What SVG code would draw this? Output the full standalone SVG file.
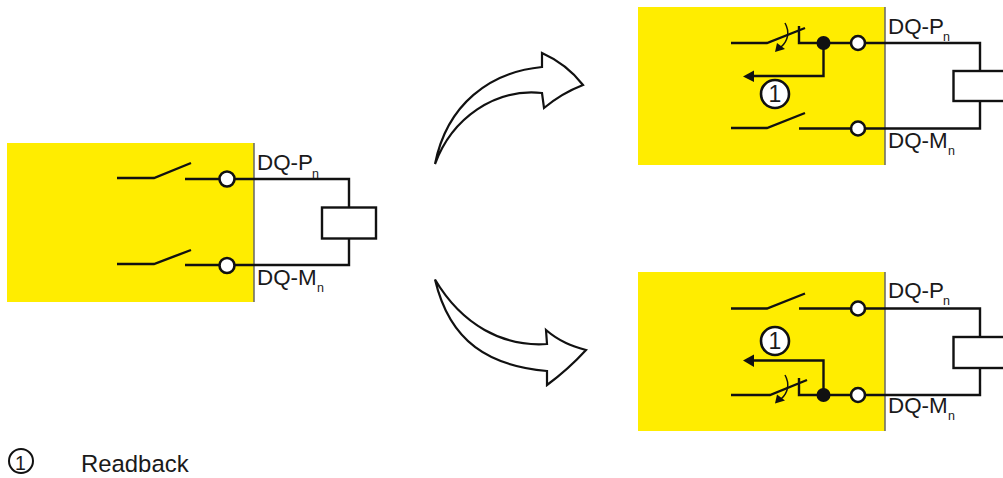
<svg xmlns="http://www.w3.org/2000/svg" width="1003" height="478" viewBox="0 0 1003 478">
<style>
text{font-family:"Liberation Sans",Arial,sans-serif;fill:#1a1a1a}
.l{font-size:22.4px}
.s{font-size:12.500px}
.y{fill:#ffed00}
.b{stroke:#666;stroke-width:1.5;fill:none}
.w{fill:none;stroke:#111;stroke-width:2.4}
.c{fill:#fff;stroke:#111;stroke-width:2.6}
.r{fill:#fff;stroke:#111;stroke-width:2.4}
.k{fill:#111;stroke:none}
.a{fill:#fff;stroke:#111;stroke-width:2.2;stroke-linejoin:miter}
.n{font-size:23px;text-anchor:middle}
</style>
<rect width="1003" height="478" fill="#fff"/>
<g id="source-module">
<rect class="y" x="7" y="143" width="247" height="159"/>
<path class="b" d="M254 143V302"/>
<path class="w" d="M117 178H154L191 163M185 179H220M234 179H349V207.500M349 238.500V265H234M117 264H154L191 250M185 265H220"/>
<rect class="r" x="322" y="207.500" width="54" height="31"/>
<circle class="c" cx="227" cy="179" r="7.500"/>
<circle class="c" cx="227" cy="265.500" r="7.500"/>
<text class="l" x="257" y="170">DQ-P</text><text class="s" x="312" y="178">n</text>
<text class="l" x="257" y="285">DQ-M</text><text class="s" x="317" y="292">n</text>
</g>
<g id="fault-p-module">
<rect class="y" x="638" y="7" width="247" height="158"/>
<path class="b" d="M885 7V165"/>
<path class="w" d="M731 43H767L805 28M799 26V43H851M865 43H980V71M980 101V128.500H865M731 128H767L805 113M799 128.500H851M823.500 43V76H752"/>
<path class="k" d="M743 76.500L754 70.500V82Z"/>
<rect class="r" x="953.500" y="71" width="60" height="30"/>
<circle class="k" cx="823.500" cy="43" r="7"/>
<circle class="c" cx="858" cy="43" r="7"/>
<circle class="c" cx="858" cy="128.500" r="7"/>
<path class="w" style="stroke-width:1.500" d="M785 23C790 32 788 41 781 47"/>
<path class="k" d="M775 52L777 43L785 49Z"/>
<circle class="c" cx="775" cy="94" r="14"/>
<text class="n" x="775" y="102">1</text>
<text class="l" x="888" y="33.500">DQ-P</text><text class="s" x="943" y="41">n</text>
<text class="l" x="888" y="148">DQ-M</text><text class="s" x="948" y="155">n</text>
</g>
<g id="fault-m-module">
<rect class="y" x="638" y="272" width="247" height="159"/>
<path class="b" d="M885 272V431"/>
<path class="w" d="M731 308.500H767L805 293.500M799 308.500H851M865 308.500H980V337M980 368V395H865M731 395H770L807 380M799 378V395H851M823.500 395V360.500H752"/>
<path class="k" d="M743 360.500L754 354.500V367Z"/>
<rect class="r" x="953.500" y="337" width="60" height="31"/>
<circle class="k" cx="823.500" cy="395" r="7"/>
<circle class="c" cx="858" cy="308.500" r="7"/>
<circle class="c" cx="858" cy="395" r="7"/>
<path class="w" style="stroke-width:1.500" d="M785 375C790 384 788 393 781 399"/>
<path class="k" d="M775 403.500L777 394.500L785 400.500Z"/>
<circle class="c" cx="775" cy="341" r="14"/>
<text class="n" x="775" y="349">1</text>
<text class="l" x="888" y="298">DQ-P</text><text class="s" x="943" y="305">n</text>
<text class="l" x="888" y="413">DQ-M</text><text class="s" x="948" y="420">n</text>
</g>
<g id="connectors">
<path class="a" d="M435 164C447 104 490 72 542 67L542 53C560 61 573 72 583 85C570 90 556 98 544 108L542 93C495 88 452 118 435 164Z"/>
<path class="a" d="M435 279.500C462 325 503 347 547 344L546 330C560 342 572 346 586 350C575 362 562 374 547 385L547 371C490 366 450 343 435 279.500Z"/>
</g>
<g id="legend">
<circle cx="21" cy="461" r="12" fill="none" stroke="#111" stroke-width="2"/>
<text class="n" x="20.500" y="470" style="font-size:19.500px">1</text>
<text x="81" y="472" style="font-size:23.900px">Readback</text>
</g>
</svg>
